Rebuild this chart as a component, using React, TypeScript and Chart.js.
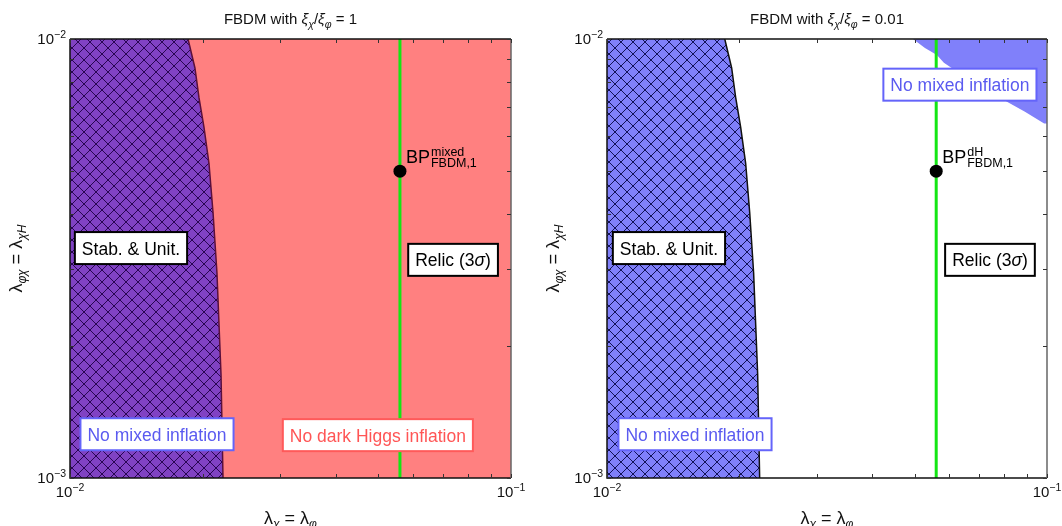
import React, { useEffect, useRef } from 'react';
import { Chart, registerables } from 'chart.js';

Chart.register(...registerables);

const FONT = '"Liberation Sans", Arial, Helvetica, sans-serif';

// ---- data ----
const xRange = [0.01, 0.1];
const yRange = [0.001, 0.01];
const xTickValues = [0.01, 0.02, 0.03, 0.04, 0.05, 0.06, 0.07, 0.08, 0.09, 0.1];
const yTickValues = [0.001, 0.002, 0.003, 0.004, 0.005, 0.006, 0.007, 0.008, 0.009, 0.01];
const xLabelValues = [0.01, 0.1];
const xLabelExponents = ['−2', '−1'];
const yLabelValues = [0.001, 0.01];
const yLabelExponents = ['−3', '−2'];

// Stability & unitarity boundary (also the "no mixed inflation" edge)
const stabBoundaryX = [0.02223, 0.022, 0.02154, 0.0211, 0.02066, 0.02013, 0.01961, 0.0192, 0.01852];
const stabBoundaryY = [0.001, 0.00172, 0.00293, 0.00403, 0.00521, 0.00629, 0.00735, 0.00859, 0.01];

// Top-right "no mixed inflation" region (right panel)
const noMixedTopX = [0.0496, 0.0528, 0.0562, 0.0583, 0.0686, 0.0811, 0.0891, 0.0985, 0.1];
const noMixedTopY = [0.01, 0.00954, 0.0092, 0.00883, 0.00791, 0.0072, 0.00683, 0.00642, 0.00642];

// Relic density line and benchmark point
const relicX = [0.056, 0.056];
const relicY = [0.001, 0.01];
const bpX = [0.056];
const bpY = [0.005];

type Seg = { t: string; size: number; italic?: boolean; dy?: number };

function drawRich(ctx: CanvasRenderingContext2D, segs: Seg[], x: number, y: number, align: 'left' | 'center' | 'right') {
  const widths: number[] = [];
  let total = 0;
  for (const s of segs) {
    ctx.font = `${s.italic ? 'italic ' : ''}${s.size}px ${FONT}`;
    const w = ctx.measureText(s.t).width;
    widths.push(w);
    total += w;
  }
  let cx = align === 'left' ? x : align === 'center' ? x - total / 2 : x - total;
  ctx.textAlign = 'left';
  ctx.textBaseline = 'alphabetic';
  segs.forEach((s, i) => {
    ctx.font = `${s.italic ? 'italic ' : ''}${s.size}px ${FONT}`;
    ctx.fillText(s.t, cx, y + (s.dy || 0));
    cx += widths[i];
  });
  return total;
}

function makeHatch(color: string, size = 12): CanvasPattern {
  const c = document.createElement('canvas');
  c.width = size;
  c.height = size;
  const g = c.getContext('2d')!;
  g.strokeStyle = color;
  g.lineWidth = 1;
  g.beginPath();
  for (const o of [-size, 0, size]) {
    g.moveTo(o - 1, -1);
    g.lineTo(o + size + 1, size + 1);
    g.moveTo(o + size + 1, -1);
    g.lineTo(o - 1, size + 1);
  }
  g.stroke();
  return g.createPattern(c, 'repeat')!;
}

type LabelDef = { segs: Seg[]; x: number; y: number; text: string; border: string };

type Panel = {
  ratio: string;
  redBackground: boolean;
  regionColor: string;
  hatchColor: string;
  boundaryColor: string;
  topRegion: boolean;
  bpSup: string;
  padding: { left: number; right: number; top: number; bottom: number };
  labels: LabelDef[];
};

const BOX_SIZE = 17.5;
const blackText = '#000';
const blueText = '#5a5af0';
const redText = '#ff5555';

function stabLabel(x: number, y: number): LabelDef {
  return { segs: [{ t: 'Stab. & Unit.', size: BOX_SIZE }], x, y, text: blackText, border: '#000' };
}
function relicLabel(x: number, y: number): LabelDef {
  return {
    segs: [
      { t: 'Relic (3', size: BOX_SIZE },
      { t: 'σ', size: BOX_SIZE, italic: true },
      { t: ')', size: BOX_SIZE },
    ],
    x, y, text: blackText, border: '#000',
  };
}
function noMixedLabel(x: number, y: number): LabelDef {
  return { segs: [{ t: 'No mixed inflation', size: BOX_SIZE }], x, y, text: blueText, border: '#6464fa' };
}
function noDHLabel(x: number, y: number): LabelDef {
  return { segs: [{ t: 'No dark Higgs inflation', size: BOX_SIZE }], x, y, text: redText, border: '#ff5a5a' };
}

const leftPanel: Panel = {
  ratio: '1',
  redBackground: true,
  regionColor: 'rgb(128,66,195)',
  hatchColor: 'rgba(30,0,70,0.9)',
  boundaryColor: '#5a0f3c',
  topRegion: false,
  bpSup: 'mixed',
  padding: { left: 70, right: 20, top: 39, bottom: 48 },
  labels: [
    stabLabel(0.01375, 0.00334),
    relicLabel(0.0739, 0.00314),
    noMixedLabel(0.01575, 0.001258),
    noDHLabel(0.0499, 0.001252),
  ],
};

const rightPanel: Panel = {
  ratio: '0.01',
  redBackground: false,
  regionColor: 'rgb(128,128,250)',
  hatchColor: 'rgba(5,5,70,0.9)',
  boundaryColor: '#111',
  topRegion: true,
  bpSup: 'dH',
  padding: { left: 76, right: 15, top: 39, bottom: 48 },
  labels: [
    stabLabel(0.01383, 0.00334),
    relicLabel(0.0742, 0.00314),
    noMixedLabel(0.01585, 0.001258),
    noMixedLabel(0.0634, 0.00787),
  ],
};

function polyDataset(pts: { x: number; y: number }[], bg: string | CanvasPattern, order: number) {
  return {
    data: pts,
    fill: 'shape',
    backgroundColor: bg,
    borderColor: 'rgba(0,0,0,0)',
    borderWidth: 0,
    pointRadius: 0,
    tension: 0,
    order,
  };
}

function overlayPlugin(panel: Panel) {
  return {
    id: 'overlay' + panel.ratio.replace('.', '_'),
    afterDraw(chart: any) {
      const ctx: CanvasRenderingContext2D = chart.ctx;
      const xs = chart.scales.x;
      const ys = chart.scales.y;
      const { left, right, top, bottom } = chart.chartArea;
      const cxMid = (left + right) / 2;
      const cyMid = (top + bottom) / 2;
      ctx.save();

      // labels in boxes
      for (const lb of panel.labels) {
        const px = xs.getPixelForValue(lb.x);
        const py = ys.getPixelForValue(lb.y);
        let w = 0;
        for (const s of lb.segs) {
          ctx.font = `${s.italic ? 'italic ' : ''}${s.size}px ${FONT}`;
          w += ctx.measureText(s.t).width;
        }
        const bw = w + 14;
        const bh = 32;
        ctx.fillStyle = '#fff';
        ctx.fillRect(px - bw / 2, py - bh / 2, bw, bh);
        ctx.strokeStyle = lb.border;
        ctx.lineWidth = 2;
        ctx.strokeRect(px - bw / 2, py - bh / 2, bw, bh);
        ctx.fillStyle = lb.text;
        drawRich(ctx, lb.segs, px, py + 6.5, 'center');
      }

      // benchmark label
      const bx = xs.getPixelForValue(bpX[0]);
      const by = ys.getPixelForValue(bpY[0]);
      ctx.fillStyle = '#000';
      ctx.textAlign = 'left';
      ctx.textBaseline = 'alphabetic';
      ctx.font = `18px ${FONT}`;
      ctx.fillText('BP', bx + 6, by - 8);
      const wbp = ctx.measureText('BP').width;
      ctx.font = `12.5px ${FONT}`;
      ctx.fillText(panel.bpSup, bx + 7 + wbp, by - 15);
      ctx.fillText('FBDM,1', bx + 7 + wbp, by - 4);

      // frame
      ctx.lineWidth = 1.5;
      ctx.strokeStyle = '#111';
      ctx.beginPath();
      ctx.moveTo(left, top);
      ctx.lineTo(left, bottom);
      ctx.lineTo(right, bottom);
      ctx.moveTo(left, top);
      ctx.lineTo(right, top);
      ctx.stroke();
      ctx.strokeStyle = '#666';
      ctx.beginPath();
      ctx.moveTo(right, top);
      ctx.lineTo(right, bottom);
      ctx.stroke();

      // ticks (inward, all four sides)
      ctx.lineWidth = 1;
      ctx.strokeStyle = '#333';
      ctx.beginPath();
      for (const v of xTickValues) {
        const p = Math.round(xs.getPixelForValue(v)) + 0.5;
        ctx.moveTo(p, bottom);
        ctx.lineTo(p, bottom - 4);
        ctx.moveTo(p, top);
        ctx.lineTo(p, top + 4);
      }
      for (const v of yTickValues) {
        const p = Math.round(ys.getPixelForValue(v)) + 0.5;
        ctx.moveTo(left, p);
        ctx.lineTo(left + 4, p);
        ctx.moveTo(right, p);
        ctx.lineTo(right - 4, p);
      }
      ctx.stroke();

      // tick labels
      ctx.fillStyle = '#111';
      xLabelValues.forEach((v, i) => {
        const p = xs.getPixelForValue(v);
        drawRich(ctx, [{ t: '10', size: 15 }, { t: xLabelExponents[i], size: 10.5, dy: -6 }], p, bottom + 19, 'center');
      });
      yLabelValues.forEach((v, i) => {
        const p = ys.getPixelForValue(v);
        drawRich(ctx, [{ t: '10', size: 15 }, { t: yLabelExponents[i], size: 10.5, dy: -6 }], left - 4, p + 5, 'right');
      });

      // title
      ctx.fillStyle = '#111';
      drawRich(
        ctx,
        [
          { t: 'FBDM with ', size: 15 },
          { t: 'ξ', size: 15, italic: true },
          { t: 'χ', size: 10.5, italic: true, dy: 3.5 },
          { t: '/', size: 15 },
          { t: 'ξ', size: 15, italic: true },
          { t: 'φ', size: 10.5, italic: true, dy: 3.5 },
          { t: ' = ' + panel.ratio, size: 15 },
        ],
        cxMid,
        24,
        'center'
      );

      // x-axis title
      drawRich(
        ctx,
        [
          { t: 'λ', size: 18 },
          { t: 'χ', size: 12, italic: true, dy: 4 },
          { t: ' = λ', size: 18 },
          { t: 'φ', size: 12, italic: true, dy: 4 },
        ],
        cxMid,
        bottom + 46,
        'center'
      );

      // y-axis title
      ctx.save();
      ctx.translate(left - 48, cyMid);
      ctx.rotate(-Math.PI / 2);
      drawRich(
        ctx,
        [
          { t: 'λ', size: 18 },
          { t: 'φχ', size: 12, italic: true, dy: 4 },
          { t: ' = λ', size: 18 },
          { t: 'χH', size: 12, italic: true, dy: 4 },
        ],
        0,
        0,
        'center'
      );
      ctx.restore();

      ctx.restore();
    },
  };
}

function makeChart(canvas: HTMLCanvasElement, panel: Panel) {
  const ctx = canvas.getContext('2d')!;
  const rect = [
    { x: xRange[0], y: yRange[0] },
    { x: xRange[1], y: yRange[0] },
    { x: xRange[1], y: yRange[1] },
    { x: xRange[0], y: yRange[1] },
  ];
  const boundary = stabBoundaryX.map((x, i) => ({ x, y: stabBoundaryY[i] }));
  const stabPoly = [{ x: xRange[0], y: yRange[0] }, ...boundary, { x: xRange[0], y: yRange[1] }];
  const datasets: any[] = [];
  if (panel.redBackground) datasets.push(polyDataset(rect, 'rgb(255,128,128)', 20));
  datasets.push(polyDataset(stabPoly, panel.regionColor, 19));
  if (panel.topRegion) {
    const top = noMixedTopX.map((x, i) => ({ x, y: noMixedTopY[i] }));
    datasets.push(polyDataset([...top, { x: xRange[1], y: yRange[1] }], 'rgb(128,128,250)', 18));
  }
  datasets.push(polyDataset(stabPoly, makeHatch(panel.hatchColor), 17));
  datasets.push({
    data: boundary,
    fill: false,
    borderColor: panel.boundaryColor,
    borderWidth: 1.5,
    pointRadius: 0,
    tension: 0,
    order: 16,
  });
  datasets.push({
    data: relicX.map((x, i) => ({ x, y: relicY[i] })),
    fill: false,
    borderColor: '#14e614',
    borderWidth: 3,
    pointRadius: 0,
    order: 15,
  });
  datasets.push({
    data: bpX.map((x, i) => ({ x, y: bpY[i] })),
    showLine: false,
    fill: false,
    pointRadius: 6.5,
    pointBackgroundColor: '#000',
    pointBorderWidth: 0,
    borderColor: '#000',
    order: 14,
  });

  return new Chart(ctx, {
    type: 'line',
    data: { datasets },
    options: {
      responsive: false,
      animation: false,
      devicePixelRatio: 1,
      events: [],
      layout: { padding: panel.padding },
      plugins: { legend: { display: false }, tooltip: { enabled: false }, title: { display: false } },
      scales: {
        x: { type: 'logarithmic', min: xRange[0], max: xRange[1], display: false },
        y: { type: 'logarithmic', min: yRange[0], max: yRange[1], display: false },
      },
    } as any,
    plugins: [overlayPlugin(panel)],
  });
}

export default function App() {
  const leftRef = useRef<HTMLCanvasElement>(null);
  const rightRef = useRef<HTMLCanvasElement>(null);
  useEffect(() => {
    const c1 = makeChart(leftRef.current!, leftPanel);
    const c2 = makeChart(rightRef.current!, rightPanel);
    return () => {
      c1.destroy();
      c2.destroy();
    };
  }, []);
  return (
    <div style={{ position: 'fixed', left: 0, top: 0, width: 1062, height: 526, background: '#fff' }}>
      <canvas ref={leftRef} width={531} height={526} style={{ position: 'absolute', left: 0, top: 0 }} />
      <canvas ref={rightRef} width={531} height={526} style={{ position: 'absolute', left: 531, top: 0 }} />
    </div>
  );
}
